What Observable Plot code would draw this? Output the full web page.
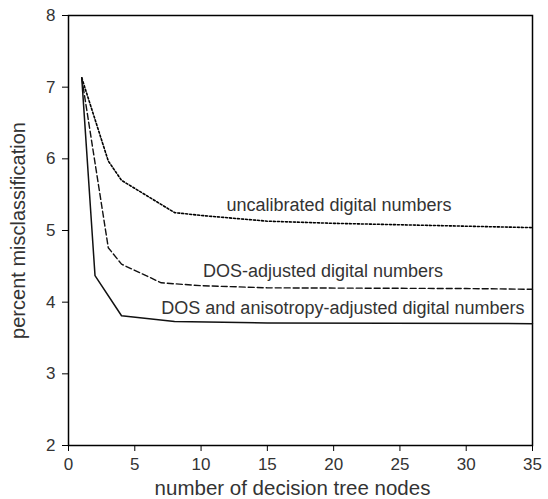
<!DOCTYPE html>
<html>
<head>
<meta charset="utf-8">
<script src="https://cdn.jsdelivr.net/npm/d3@7"></script>
<script src="https://cdn.jsdelivr.net/npm/@observablehq/plot@0.6"></script>
<style>
  body { margin: 0; background: #fff; }
  #chart svg { font-family: "Liberation Sans", Arial, sans-serif; }
  #chart svg g[aria-label="x-axis tick label"],
  #chart svg g[aria-label="y-axis tick label"] { font-size: 17px; fill: #333; }
  #chart svg g[aria-label="y-axis label"] { font-size: 20px; fill: #333; }
</style>
</head>
<body>
<div id="chart"></div>
<script>
// Series: number of decision tree nodes vs percent misclassification
const combinedX = [1, 2, 4, 8, 15, 35];
const combinedY = [7.13, 4.37, 3.81, 3.73, 3.71, 3.70];

const dosX = [1, 3, 4, 7, 10, 15, 30, 35];
const dosY = [7.13, 4.76, 4.53, 4.27, 4.23, 4.20, 4.19, 4.18];

const uncalX = [1, 3, 4, 8, 10, 15, 20, 35];
const uncalY = [7.13, 5.97, 5.70, 5.25, 5.21, 5.13, 5.10, 5.04];

const labelTexts = ["uncalibrated digital numbers", "DOS-adjusted digital numbers", "DOS and anisotropy-adjusted digital numbers"];
const labelX = [20.4, 19.2, 20.7];
const labelY = [5.35, 4.43, 3.91];

const xTicks = [0, 5, 10, 15, 20, 25, 30, 35];
const yTicks = [2, 3, 4, 5, 6, 7, 8];

const xTitle = "number of decision tree nodes";
const yTitle = "percent misclassification";

const toRows = (xs, ys) => xs.map((x, i) => ({x, y: ys[i]}));
const labels = labelTexts.map((t, i) => ({t, x: labelX[i], y: labelY[i]}));

const chart = Plot.plot({
  width: 548,
  height: 499,
  marginLeft: 68,
  marginRight: 16,
  marginTop: 15,
  marginBottom: 54,
  style: {background: "#fff", overflow: "visible"},
  x: {domain: [0, 35]},
  y: {domain: [2, 8]},
  marks: [
    Plot.axisX({ticks: xTicks, tickSize: 6, tickPadding: 6, tickFormat: "d", stroke: "#000", label: null}),
    Plot.axisY({ticks: yTicks, tickSize: 6, tickPadding: 7, tickFormat: "d", stroke: "#000", label: yTitle, labelAnchor: "center", labelOffset: 58, labelArrow: "none"}),
    Plot.text([xTitle], {frameAnchor: "bottom", text: d => d, lineAnchor: "middle", dy: 43, dx: -8, fontSize: 20.5, fill: "#333"}),
    Plot.frame({stroke: "#000", strokeWidth: 1.5}),
    Plot.line(toRows(uncalX, uncalY), {x: "x", y: "y", stroke: "#000", strokeWidth: 1.6, strokeDasharray: "2,2"}),
    Plot.line(toRows(dosX, dosY), {x: "x", y: "y", stroke: "#111", strokeWidth: 1.4, strokeDasharray: "6,3"}),
    Plot.line(toRows(combinedX, combinedY), {x: "x", y: "y", stroke: "#111", strokeWidth: 1.5}),
    Plot.text(labels, {x: "x", y: "y", text: "t", fontSize: 18, fill: "#333", textAnchor: "middle"})
  ]
});
document.getElementById("chart").appendChild(chart);
</script>
</body>
</html>
